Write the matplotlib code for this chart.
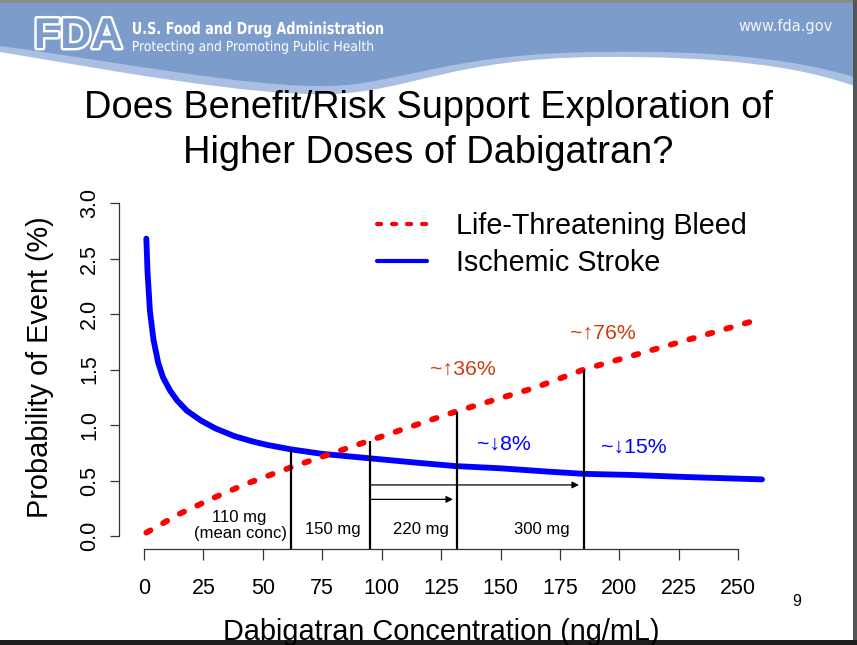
import numpy as np
import matplotlib
matplotlib.use("Agg")
import matplotlib.pyplot as plt
from matplotlib.path import Path
from matplotlib.patches import PathPatch, Rectangle
from matplotlib.textpath import TextPath
from matplotlib.font_manager import FontProperties
from matplotlib.transforms import Affine2D
import matplotlib.patheffects as pe

# ---------------- data ----------------
stroke_x = [1, 1.5, 2.5, 4, 6, 8, 11, 14, 18, 24, 30, 38, 46, 52, 62, 75, 95,
            115, 131, 150, 170, 185, 205, 230, 260]
stroke_y = [2.68, 2.38, 2.03, 1.77, 1.56, 1.43, 1.31, 1.22, 1.13, 1.04, 0.97,
            0.90, 0.85, 0.82, 0.78, 0.74, 0.70, 0.66, 0.63, 0.61, 0.58, 0.56,
            0.55, 0.53, 0.51]

bleed_x = [1, 15, 30, 43, 62, 73, 95, 108, 131, 165, 185, 221, 260]
bleed_y = [0.03, 0.20, 0.35, 0.47, 0.62, 0.70, 0.86, 0.955, 1.12, 1.34, 1.50,
           1.72, 1.96]

dose_conc = [62, 95, 131.5, 185]          # vertical marker lines
dose_top = [0.78, 0.86, 1.12, 1.50]        # top of each marker line
dose_labels = ["110 mg", "150 mg", "220 mg", "300 mg"]

arrow_start = [95, 95]
arrow_end = [130, 183]
arrow_level = [0.33, 0.46]

bleed_notes = ["~\u219136%", "~\u219176%"]
stroke_notes = ["~\u21938%", "~\u219315%"]

x_ticks = [0, 25, 50, 75, 100, 125, 150, 175, 200, 225, 250]
y_ticks = [0.0, 0.5, 1.0, 1.5, 2.0, 2.5, 3.0]

FONT = "Liberation Sans"
plt.rcParams["font.family"] = [FONT, "DejaVu Sans"]

W, H = 857, 645
fig = plt.figure(figsize=(W / 100, H / 100), dpi=100)
fig.patch.set_facecolor("white")

# ---------------- slide background (pixel coordinates) ----------------
bg = fig.add_axes([0, 0, 1, 1], zorder=0)
bg.set_xlim(0, W)
bg.set_ylim(H, 0)
bg.axis("off")

DARK = "#7c9dcb"
LIGHT = "#aabfe2"

def band(p0, segs, color):
    pts = [p0]
    for s in segs:
        pts += list(s)
    rev = pts[::-1]
    verts = [(0, 0), (W, 0), rev[0]]
    codes = [Path.MOVETO, Path.LINETO, Path.LINETO]
    for i in range(1, len(rev), 3):
        verts += [rev[i], rev[i + 1], rev[i + 2]]
        codes += [Path.CURVE4] * 3
    verts.append((0, 0))
    codes.append(Path.CLOSEPOLY)
    bg.add_patch(PathPatch(Path(verts, codes), facecolor=color,
                           edgecolor="none"))

band((0, 52), [((120, 72), (250, 96), (330, 94)),
               ((410, 92), (450, 58), (600, 57)),
               ((720, 56), (800, 66), (W, 87))], LIGHT)
band((0, 46), [((120, 62), (250, 88), (330, 86)),
               ((400, 84), (450, 53), (600, 52)),
               ((720, 50), (800, 60), (W, 78))], DARK)

bg.add_patch(Rectangle((0, 0), W, 2.5, facecolor="#8a8a8a", edgecolor="none"))
bg.add_patch(Rectangle((W - 4, 0), 4, H, facecolor="#555555", edgecolor="none"))
bg.add_patch(Rectangle((0, H - 5), W, 5, facecolor="#1e1e1e", edgecolor="none"))


def condensed_text(s, x0, baseline, size_px, width_px, weight="normal",
                   color="white"):
    tp = TextPath((0, 0), s, size=size_px,
                  prop=FontProperties(family="DejaVu Sans", weight=weight))
    ext = tp.get_extents()
    sx = width_px / ext.width
    tr = Affine2D().translate(-ext.x0, 0).scale(sx, -1).translate(x0, baseline)
    bg.add_patch(PathPatch(tr.transform_path(tp), facecolor=color,
                           edgecolor="none", lw=0))


bg.text(78, 37, "FDA", fontsize=31, fontweight="bold", color=DARK,
        ha="center", va="center", family=FONT,
        path_effects=[pe.withStroke(linewidth=3.5, foreground="white")])
condensed_text("U.S. Food and Drug Administration", 133, 34, 16.5, 250,
               weight="bold")
condensed_text("Protecting and Promoting Public Health", 133, 51, 13.8, 240)
bg.text(833, 27, "www.fda.gov", fontsize=10.5, color="#f4f4f4", ha="right",
        va="center", family="DejaVu Sans")

bg.text(428.5, 108, "Does Benefit/Risk Support Exploration of", fontsize=27.4,
        ha="center", va="center", color="black")
bg.text(428.5, 153, "Higher Doses of Dabigatran?", fontsize=27.4,
        ha="center", va="center", color="black")

bg.text(40, 367, "Probability of Event (%)", fontsize=20.8, rotation=90,
        ha="center", va="center")
bg.text(441, 632, "Dabigatran Concentration (ng/mL)", fontsize=20.8,
        ha="center", va="center")
bg.text(797, 601, "9", fontsize=11.5, ha="center", va="center")

# ---------------- chart axes ----------------
left_px, right_px, top_px, bot_px = 119, 781, 192, 549.3
ax = fig.add_axes([left_px / W, 1 - bot_px / H, (right_px - left_px) / W,
                   (bot_px - top_px) / H], zorder=2)
ax.patch.set_alpha(0)
ax.set_xlim(-10.5, 268)
ax.set_ylim(-0.12, 3.1)

ax.spines["top"].set_visible(False)
ax.spines["right"].set_visible(False)
for s in ("left", "bottom"):
    ax.spines[s].set_color("#333333")
    ax.spines[s].set_linewidth(0.9)
ax.spines["left"].set_bounds(0, 3)
ax.spines["bottom"].set_bounds(0, 250)

ax.set_xticks(x_ticks)
ax.set_xticklabels([str(t) for t in x_ticks])
ax.set_yticks(y_ticks)
ax.set_yticklabels([f"{t:.1f}" for t in y_ticks], rotation=90, va="center")
ax.tick_params(axis="x", length=8, width=0.9, color="#333333", pad=13,
               labelsize=15.5)
ax.tick_params(axis="y", length=6.5, width=0.9, color="#333333", pad=7,
               labelsize=15.5)

stroke_line, = ax.plot(stroke_x, stroke_y, color="#0000ff", lw=4.2,
                       solid_capstyle="round", label="Ischemic Stroke",
                       zorder=3)
bleed_line, = ax.plot(bleed_x, bleed_y, color="#ff0000", lw=4.2,
                      dashes=(0.8, 2.5), dash_capstyle="round",
                      label="Life-Threatening Bleed", zorder=4)

ybase = ax.get_ylim()[0]
ax.vlines(dose_conc, ybase, dose_top, color="black", lw=1.6, zorder=5)

for x0, x1, yl in zip(arrow_start, arrow_end, arrow_level):
    ax.annotate("", xy=(x1, yl), xytext=(x0, yl),
                arrowprops=dict(arrowstyle="-|>", color="black", lw=0.9,
                                mutation_scale=10, shrinkA=0, shrinkB=0))

ax.text(40, 0.17, dose_labels[0], fontsize=12, ha="center", va="center")
ax.text(40.5, 0.02, "(mean conc)", fontsize=12, ha="center", va="center")
for lab, xc in zip(dose_labels[1:], [79.5, 116.5, 167.5]):
    ax.text(xc, 0.06, lab, fontsize=12, ha="center", va="center")

RED_TXT = "#d23a10"
ax.text(134, 1.50, bleed_notes[0], fontsize=15.3, color=RED_TXT, ha="center",
        va="center")
ax.text(193, 1.83, bleed_notes[1], fontsize=15.3, color=RED_TXT, ha="center",
        va="center")
ax.text(151.5, 0.83, stroke_notes[0], fontsize=15.3, color="#0000ff",
        ha="center", va="center")
ax.text(206, 0.80, stroke_notes[1], fontsize=15.3, color="#0000ff",
        ha="center", va="center")

leg = ax.legend(handles=[bleed_line, stroke_line], frameon=False,
                fontsize=20.7, handlelength=1.75, handletextpad=1.0,
                labelspacing=0.3, borderpad=0, borderaxespad=0,
                loc="upper left",
                bbox_to_anchor=(377 / W, 1 - 212 / H),
                bbox_transform=fig.transFigure)
for ln in leg.get_lines():
    ln.set_linewidth(3.0)
leg.get_lines()[0].set_dashes((1.0, 2.6))

fig.savefig("out.png", dpi=100, facecolor="white")
